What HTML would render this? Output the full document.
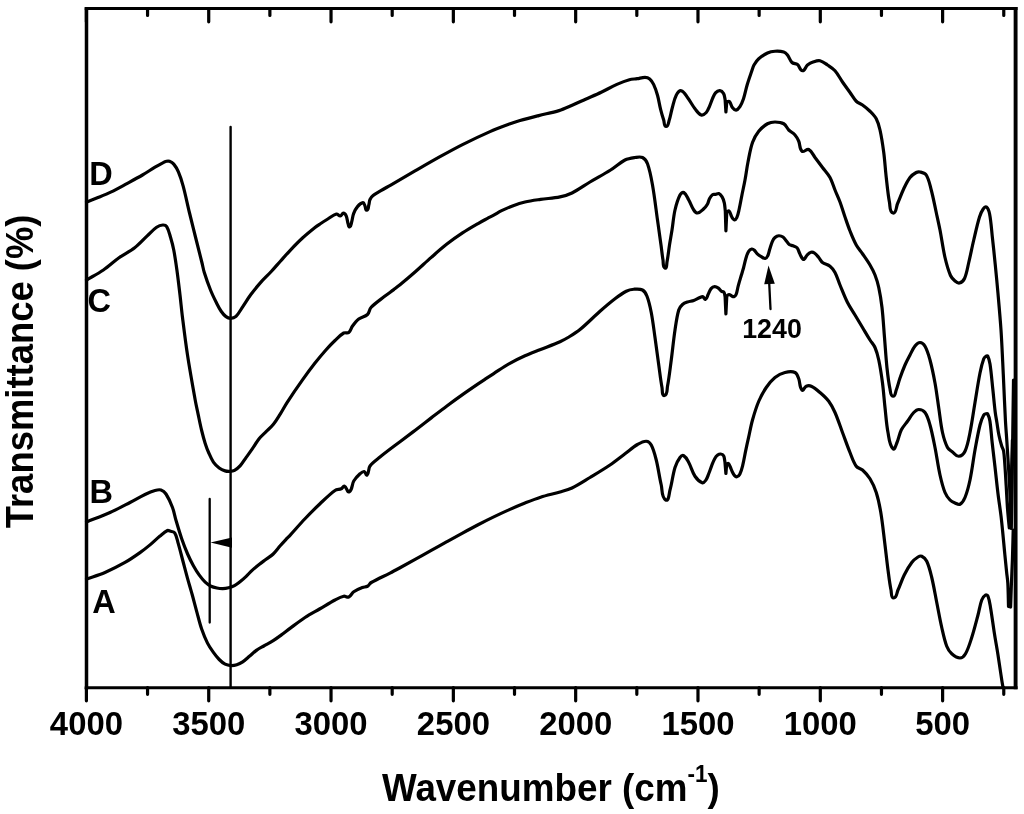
<!DOCTYPE html>
<html><head><meta charset="utf-8"><title>FTIR spectra</title>
<style>
html,body{margin:0;padding:0;background:#fff;}
body{width:1024px;height:814px;overflow:hidden;}
svg{display:block;}
text{font-family:"Liberation Sans",sans-serif;font-weight:bold;fill:#000;}
.cv{fill:none;stroke:#000;stroke-width:3.2;stroke-linejoin:round;stroke-linecap:round;}
.ax{fill:none;stroke:#000;stroke-width:3.2;stroke-linecap:round;}
.tk{fill:none;stroke:#000;stroke-width:3.2;stroke-linecap:round;}
.thin{fill:none;stroke:#000;stroke-width:1.8;}
</style></head><body>
<svg width="1024" height="814" viewBox="0 0 1024 814">
<rect x="0" y="0" width="1024" height="814" fill="#fff"/>
<path d="M86.5,7V689.25" fill="none" stroke="#000" stroke-width="3.5"/>
<path d="M1015.6,7V689.25" fill="none" stroke="#000" stroke-width="3.9"/>
<path d="M84.75,8.55H1017.55" fill="none" stroke="#000" stroke-width="3.1"/>
<path d="M84.75,687.7H1017.55" fill="none" stroke="#000" stroke-width="3.1"/>
<path class="tk" d="M86.40,687.7V700.8M86.40,8.5V21.8M147.56,687.7V694.3M147.56,8.5V15.5M208.72,687.7V700.8M208.72,8.5V21.8M269.88,687.7V694.3M269.88,8.5V15.5M331.03,687.7V700.8M331.03,8.5V21.8M392.19,687.7V694.3M392.19,8.5V15.5M453.35,687.7V700.8M453.35,8.5V21.8M514.51,687.7V694.3M514.51,8.5V15.5M575.67,687.7V700.8M575.67,8.5V21.8M636.82,687.7V694.3M636.82,8.5V15.5M697.98,687.7V700.8M697.98,8.5V21.8M759.14,687.7V694.3M759.14,8.5V15.5M820.30,687.7V700.8M820.30,8.5V21.8M881.46,687.7V694.3M881.46,8.5V15.5M942.62,687.7V700.8M942.62,8.5V21.8M1003.77,687.7V694.3M1003.77,8.5V15.5"/>
<path class="cv" d="M86.50,202.00C90.33,200.53 94.20,199.15 98.00,197.60C102.45,195.78 106.92,194.00 111.25,191.90C116.56,189.33 121.71,186.41 126.90,183.60C132.12,180.78 137.37,177.99 142.50,175.00C146.74,172.52 150.79,169.73 155.00,167.20C157.56,165.66 160.14,164.16 162.80,162.80C163.98,162.19 165.20,161.59 166.50,161.30C167.48,161.08 168.57,160.94 169.50,161.30C171.08,161.91 172.66,162.80 173.75,164.10C175.70,166.42 177.21,169.12 178.40,171.90C180.34,176.42 181.81,181.15 183.10,185.90C185.48,194.69 187.25,203.64 189.40,212.50C191.42,220.84 193.52,229.17 195.60,237.50C197.68,245.84 199.83,254.16 201.90,262.50C202.73,265.83 203.28,269.23 204.30,272.50C206.15,278.41 208.20,284.25 210.50,290.00C212.21,294.26 214.24,298.40 216.30,302.50C217.84,305.57 219.35,308.67 221.30,311.50C222.61,313.40 224.14,315.23 226.00,316.60C227.29,317.55 228.90,318.35 230.50,318.30C232.45,318.24 234.59,317.65 236.00,316.30C238.94,313.48 240.71,309.65 243.00,306.28C245.54,302.55 247.82,298.64 250.50,295.01C253.59,290.82 256.85,286.73 260.30,282.83C263.77,278.89 267.68,275.37 271.25,271.52C274.45,268.07 277.47,264.45 280.60,260.95C283.72,257.46 286.77,253.91 290.00,250.53C294.07,246.27 298.16,242.02 302.50,238.03C306.51,234.34 310.75,230.92 315.00,227.51C316.59,226.23 318.30,225.11 320.00,223.97C322.57,222.27 325.17,220.60 327.80,219.00C330.63,217.28 333.18,214.80 336.40,214.00C337.80,213.65 338.86,216.06 340.30,215.90C341.66,215.74 342.03,213.20 343.40,213.20C344.70,213.20 345.67,214.72 346.20,215.90C347.30,218.36 347.28,221.18 348.10,223.75C348.46,224.87 348.62,227.38 349.70,226.90C351.25,226.22 351.12,223.82 351.60,222.20C352.43,219.38 352.56,216.35 353.60,213.60C354.54,211.10 355.76,208.62 357.50,206.60C358.97,204.90 360.77,202.94 363.00,202.70C364.20,202.57 364.33,204.73 364.90,205.80C365.64,207.20 365.35,210.42 366.90,210.10C368.68,209.74 368.29,206.74 368.80,205.00C369.33,203.20 369.22,201.21 370.00,199.50C370.69,197.99 371.81,196.64 373.10,195.60C375.49,193.67 378.27,192.28 380.90,190.70C384.00,188.84 387.17,187.10 390.30,185.29C398.54,180.53 406.75,175.72 415.00,170.98C423.32,166.19 431.61,161.37 440.00,156.71C447.44,152.58 454.89,148.45 462.50,144.63C471.56,140.08 480.71,135.70 490.00,131.62C496.36,128.83 502.88,126.43 509.40,124.04C512.89,122.75 516.43,121.60 520.00,120.57C526.21,118.79 532.49,117.20 538.75,115.60C545.49,113.88 552.35,112.64 559.00,110.60C563.33,109.27 567.44,107.28 571.60,105.50C576.30,103.48 580.93,101.29 585.60,99.20C590.81,96.86 596.08,94.64 601.25,92.20C606.52,89.71 611.57,86.77 616.90,84.40C620.97,82.59 625.11,80.90 629.40,79.70C631.92,78.99 634.61,79.10 637.20,78.70C639.81,78.30 642.36,77.26 645.00,77.30C646.65,77.33 648.42,77.85 649.70,78.90C651.43,80.33 652.63,82.37 653.60,84.40C655.26,87.88 656.46,91.58 657.50,95.30C658.80,99.93 659.43,104.73 660.60,109.40C661.52,113.07 662.59,116.70 663.75,120.30C664.42,122.37 663.92,126.40 666.10,126.40C668.38,126.40 668.48,122.46 669.20,120.30C670.56,116.23 671.13,111.93 672.30,107.80C673.49,103.59 674.22,99.17 676.25,95.30C677.30,93.30 679.04,90.32 681.25,90.75C684.26,91.34 685.64,95.06 687.50,97.50C690.24,101.08 692.22,105.21 695.00,108.75C696.82,111.07 698.45,114.07 701.25,115.00C703.02,115.59 704.98,113.86 706.25,112.50C707.90,110.74 708.61,108.29 709.60,106.10C710.69,103.69 711.43,101.12 712.50,98.70C713.39,96.68 714.01,94.43 715.50,92.80C716.61,91.59 718.27,90.44 719.90,90.60C721.48,90.76 722.80,92.23 723.60,93.60C724.62,95.35 724.60,97.53 725.10,99.50C725.37,103.67 725.63,107.83 725.90,112.00C726.20,108.57 726.50,105.13 726.80,101.70C727.70,101.70 728.88,101.05 729.50,101.70C731.01,103.29 731.06,105.87 732.40,107.60C733.32,108.79 734.60,110.36 736.10,110.20C737.77,110.02 738.89,108.21 739.80,106.80C741.41,104.30 742.56,101.51 743.50,98.70C745.03,94.12 745.82,89.33 747.20,84.70C748.52,80.25 750.09,75.88 751.60,71.50C752.35,69.32 752.87,67.01 754.00,65.00C755.28,62.72 756.79,60.49 758.75,58.75C761.36,56.43 764.33,54.46 767.50,53.00C769.83,51.92 772.44,51.41 775.00,51.25C777.92,51.07 780.95,51.16 783.75,52.00C785.28,52.46 786.51,53.74 787.50,55.00C789.30,57.29 789.89,60.49 792.00,62.50C793.41,63.84 795.97,63.29 797.50,64.50C799.60,66.15 799.84,70.62 802.50,70.75C805.04,70.88 805.52,66.59 807.50,65.00C809.33,63.53 811.53,62.51 813.75,61.75C815.75,61.07 817.95,60.26 820.00,60.75C822.80,61.41 825.11,63.41 827.50,65.00C830.12,66.75 832.92,68.39 835.00,70.75C837.98,74.13 839.94,78.29 842.50,82.00C844.94,85.54 847.50,89.00 850.00,92.50C852.08,95.42 853.72,98.72 856.25,101.25C857.97,102.97 860.54,103.57 862.50,105.00C865.13,106.91 867.70,108.95 870.00,111.25C872.30,113.55 874.72,115.88 876.25,118.75C878.11,122.24 879.14,126.14 880.00,130.00C881.65,137.42 882.76,144.96 883.75,152.50C884.84,160.80 885.29,169.18 886.25,177.50C887.21,185.85 887.93,194.24 889.50,202.50C890.19,206.12 889.35,212.43 893.00,213.00C896.39,213.53 896.11,206.88 897.50,203.75C899.70,198.80 901.42,193.64 903.75,188.75C905.59,184.88 907.38,180.90 910.00,177.50C911.63,175.39 913.91,173.79 916.25,172.50C917.35,171.89 918.78,171.69 920.00,172.00C922.24,172.56 925.03,173.04 926.25,175.00C929.04,179.47 929.89,184.91 931.25,190.00C933.23,197.42 934.61,204.99 936.25,212.50C937.52,218.33 938.86,224.14 940.00,230.00C941.78,239.15 942.90,248.42 945.00,257.50C946.41,263.61 948.04,269.73 950.50,275.50C951.43,277.68 953.19,279.47 955.00,281.00C956.23,282.04 957.84,283.41 959.40,283.00C961.59,282.42 963.56,280.56 964.50,278.50C966.79,273.48 967.46,267.87 968.75,262.50C970.54,255.03 971.98,247.48 973.75,240.00C975.57,232.31 977.20,224.56 979.50,217.00C980.36,214.19 981.52,211.41 983.20,209.00C983.94,207.95 985.49,206.21 986.50,207.00C988.51,208.57 989.11,211.50 989.60,214.00C991.06,221.45 991.46,229.06 992.30,236.60C993.33,245.79 994.28,255.00 995.20,264.20C996.18,274.00 997.14,283.79 998.00,293.60C999.07,305.73 1000.17,317.85 1001.00,330.00C1001.73,340.66 1002.17,351.33 1002.70,362.00C1003.17,371.33 1003.57,380.67 1004.00,390.00C1004.47,400.00 1004.84,410.00 1005.40,420.00C1005.81,427.34 1006.42,434.67 1006.90,442.00C1007.38,449.33 1007.85,456.67 1008.30,464.00C1008.75,471.33 1009.24,478.66 1009.60,486.00C1009.97,493.50 1010.20,501.00 1010.50,508.50C1010.77,515.17 1011.03,521.83 1011.30,528.50C1011.60,512.33 1011.95,496.17 1012.20,480.00C1012.45,463.33 1012.58,446.67 1012.80,430.00C1013.02,413.33 1013.27,396.67 1013.50,380.00"/>
<path class="cv" d="M86.50,280.00C92.13,276.67 97.99,273.69 103.40,270.00C108.85,266.28 113.62,261.63 119.00,257.80C124.07,254.19 129.79,251.52 134.70,247.70C139.23,244.19 143.01,239.81 147.20,235.90C150.31,233.01 153.12,229.73 156.60,227.30C158.41,226.04 160.60,225.15 162.80,225.00C164.20,224.90 165.96,225.41 166.70,226.60C168.74,229.87 169.49,233.81 170.60,237.50C171.84,241.61 172.93,245.78 173.75,250.00C175.03,256.63 175.97,263.32 176.90,270.00C178.06,278.32 179.02,286.66 180.00,295.00C180.88,302.49 181.56,310.01 182.50,317.50C184.06,330.01 185.58,342.54 187.50,355.00C189.82,370.04 192.51,385.02 195.20,400.00C196.05,404.72 197.11,409.41 198.10,414.10C199.26,419.57 200.33,425.06 201.65,430.50C202.70,434.83 203.85,439.15 205.20,443.40C206.21,446.57 207.36,449.70 208.70,452.75C210.10,455.94 211.42,459.23 213.40,462.10C214.96,464.37 217.00,466.34 219.20,468.00C220.95,469.32 223.01,470.25 225.10,470.90C226.60,471.37 228.23,471.40 229.80,471.30C231.40,471.20 233.09,471.06 234.50,470.30C236.69,469.11 238.63,467.44 240.30,465.60C242.56,463.11 244.23,460.13 246.20,457.40C248.17,454.67 250.19,451.97 252.10,449.20C254.49,445.74 256.48,441.99 259.10,438.70C261.17,436.11 263.76,433.99 266.10,431.65C268.46,429.29 271.11,427.20 273.20,424.60C275.83,421.32 277.96,417.66 280.20,414.10C282.63,410.23 284.70,406.13 287.20,402.30C292.14,394.72 297.27,387.27 302.50,379.90C306.54,374.19 310.69,368.57 315.00,363.06C318.50,358.59 322.13,354.22 325.90,349.97C328.80,346.70 331.83,343.52 335.00,340.51C337.79,337.86 340.43,334.93 343.75,333.00C345.20,332.16 347.44,333.55 348.75,332.50C350.70,330.94 351.01,328.01 352.50,326.00C354.36,323.49 356.27,320.90 358.75,319.00C361.35,317.00 365.11,316.74 367.50,314.50C369.40,312.71 369.20,309.39 371.00,307.50C375.15,303.14 380.27,299.81 385.00,296.09C387.85,293.85 390.85,291.79 393.75,289.61C395.85,288.03 397.98,286.49 400.00,284.81C405.26,280.46 410.46,276.03 415.60,271.52C420.88,266.89 425.96,262.03 431.25,257.40C436.40,252.89 441.51,248.33 446.90,244.11C451.94,240.17 457.16,236.46 462.50,232.94C467.57,229.60 472.85,226.58 478.10,223.53C481.18,221.73 484.36,220.09 487.50,218.41C489.57,217.29 491.69,216.27 493.75,215.13C496.39,213.66 498.89,211.93 501.60,210.60C505.15,208.85 508.79,207.26 512.50,205.90C516.60,204.39 520.75,202.98 525.00,202.00C530.14,200.81 535.38,200.16 540.60,199.40C547.05,198.46 553.61,198.20 560.00,196.90C564.12,196.06 568.23,194.87 572.00,193.00C578.30,189.87 583.96,185.60 590.00,182.00C596.83,177.93 603.87,174.23 610.60,170.00C615.55,166.89 619.80,162.66 625.00,160.00C628.06,158.43 631.60,157.99 635.00,157.50C637.47,157.15 640.26,156.38 642.50,157.50C644.89,158.69 646.59,161.24 647.50,163.75C649.99,170.59 651.23,177.84 652.50,185.00C654.56,196.60 655.85,208.33 657.50,220.00C658.68,228.33 659.85,236.66 661.00,245.00C661.69,250.00 662.14,255.03 663.00,260.00C663.47,262.71 662.54,266.77 665.00,268.00C666.89,268.94 666.60,264.07 667.00,262.00C668.10,256.38 668.62,250.66 669.50,245.00C670.28,239.99 671.21,235.01 672.00,230.00C673.05,223.34 673.50,216.57 675.00,210.00C676.17,204.86 677.64,199.71 680.00,195.00C680.67,193.66 682.45,191.75 683.75,192.50C686.36,193.99 687.26,197.39 688.75,200.00C690.60,203.24 691.67,206.91 693.75,210.00C694.64,211.33 695.91,213.20 697.50,213.00C700.00,212.69 701.86,210.41 703.75,208.75C705.19,207.48 706.46,205.97 707.40,204.30C708.43,202.47 708.62,200.25 709.60,198.40C710.34,197.02 711.20,195.58 712.50,194.70C713.33,194.14 714.51,194.57 715.50,194.40C716.61,194.21 717.74,193.20 718.80,193.60C720.25,194.15 721.30,195.56 722.10,196.90C723.18,198.70 723.84,200.75 724.30,202.80C724.91,205.49 724.97,208.27 725.30,211.00C725.50,217.60 725.70,224.20 725.90,230.80C726.20,224.43 726.50,218.07 726.80,211.70C727.57,211.47 728.54,210.42 729.10,211.00C730.57,212.53 730.62,214.98 731.70,216.80C732.37,217.94 732.99,219.59 734.30,219.80C735.40,219.97 736.33,218.61 736.80,217.60C737.99,215.06 738.48,212.24 739.10,209.50C740.21,204.60 741.01,199.63 742.00,194.70C742.98,189.80 744.10,184.92 745.00,180.00C746.10,174.02 746.81,167.96 748.00,162.00C749.31,155.46 750.30,148.80 752.50,142.50C753.92,138.45 756.07,134.60 758.75,131.25C761.15,128.25 764.16,125.65 767.50,123.75C769.73,122.48 772.43,122.00 775.00,122.00C777.97,122.00 781.18,122.25 783.75,123.75C786.06,125.09 786.86,128.11 788.75,130.00C790.64,131.89 793.23,133.01 795.00,135.00C796.61,136.82 797.79,139.02 798.75,141.25C800.14,144.47 799.30,149.02 802.00,151.25C803.79,152.73 806.66,148.49 808.75,149.50C811.80,150.97 812.95,154.81 815.00,157.50C817.53,160.81 820.00,164.17 822.50,167.50C825.00,170.83 827.98,173.86 830.00,177.50C832.18,181.42 833.30,185.85 835.00,190.00C836.64,194.01 838.49,197.94 840.00,202.00C841.83,206.94 843.28,212.02 845.00,217.00C846.62,221.68 848.15,226.40 850.00,231.00C851.91,235.74 853.79,240.52 856.25,245.00C857.98,248.14 860.47,250.80 862.50,253.75C865.05,257.46 867.71,261.12 870.00,265.00C871.89,268.21 873.65,271.53 875.00,275.00C876.58,279.05 877.83,283.25 878.75,287.50C880.17,294.10 881.23,300.79 882.00,307.50C883.15,317.47 883.67,327.50 884.50,337.50C885.34,347.67 885.92,357.86 887.00,368.00C887.75,375.03 888.53,382.08 890.00,389.00C890.54,391.56 890.42,395.84 893.00,396.25C895.32,396.62 895.41,392.19 896.25,390.00C897.75,386.09 898.62,381.96 900.00,378.00C901.53,373.62 903.15,369.26 905.00,365.00C906.49,361.58 908.26,358.30 910.00,355.00C911.60,351.96 912.86,348.68 915.00,346.00C916.27,344.41 917.97,342.45 920.00,342.50C922.08,342.55 923.97,344.44 925.00,346.25C927.42,350.48 928.72,355.29 930.00,360.00C932.06,367.57 933.59,375.28 935.00,383.00C936.51,391.29 937.49,399.67 938.75,408.00C939.99,416.17 940.71,424.43 942.50,432.50C943.64,437.65 945.10,442.81 947.50,447.50C948.52,449.50 950.73,450.62 952.50,452.00C954.49,453.55 956.24,456.40 958.75,456.25C961.41,456.09 963.86,453.66 965.00,451.25C967.77,445.40 968.70,438.84 970.00,432.50C972.04,422.57 973.32,412.50 975.00,402.50C976.65,392.66 978.04,382.78 980.00,373.00C980.96,368.18 982.06,363.36 983.75,358.75C984.18,357.59 985.23,356.71 986.25,356.00C986.65,355.72 987.49,355.56 987.70,356.00C988.88,358.51 989.58,361.26 990.00,364.00C991.28,372.29 991.90,380.66 992.80,389.00C993.63,396.66 994.27,404.35 995.20,412.00C995.61,415.35 996.26,418.67 996.80,422.00C997.53,426.50 998.09,431.03 999.00,435.50C999.72,439.04 1000.67,442.54 1001.70,446.00C1002.21,447.71 1003.30,449.24 1003.60,451.00C1004.34,455.29 1004.48,459.66 1004.80,464.00C1005.34,471.33 1005.75,478.67 1006.20,486.00C1006.65,493.50 1006.99,501.01 1007.50,508.50C1007.79,512.67 1008.22,516.83 1008.60,521.00C1008.82,523.34 1009.07,525.67 1009.30,528.00C1009.73,518.67 1010.23,509.34 1010.60,500.00C1011.00,490.00 1011.30,480.00 1011.60,470.00C1011.90,460.00 1012.13,450.00 1012.40,440.00"/>
<path class="cv" d="M86.50,522.00C94.33,518.83 102.29,515.96 110.00,512.50C116.80,509.45 123.37,505.91 130.00,502.50C135.04,499.91 139.89,496.95 145.00,494.50C148.24,492.95 151.54,491.47 155.00,490.50C156.93,489.96 159.09,489.39 161.00,490.00C163.03,490.65 164.83,492.22 166.00,494.00C168.74,498.17 170.72,502.83 172.50,507.50C174.04,511.54 174.68,515.86 175.90,520.00C177.75,526.28 179.57,532.56 181.70,538.75C183.47,543.90 185.43,549.00 187.60,554.00C189.33,557.99 191.29,561.89 193.40,565.70C195.19,568.94 197.14,572.10 199.30,575.10C201.08,577.58 202.99,580.00 205.20,582.10C206.92,583.73 208.89,585.13 211.00,586.20C212.84,587.13 214.89,587.59 216.90,588.00C218.82,588.39 220.79,588.64 222.75,588.60C224.72,588.56 226.69,588.24 228.60,587.75C230.63,587.23 232.65,586.59 234.50,585.60C236.59,584.48 238.45,582.97 240.30,581.50C242.35,579.87 244.29,578.10 246.20,576.30C248.23,574.39 250.05,572.28 252.10,570.40C254.35,568.34 256.71,566.40 259.10,564.50C261.38,562.69 263.77,561.04 266.10,559.30C268.47,557.54 271.07,556.04 273.20,554.00C275.80,551.51 277.82,548.49 280.20,545.80C282.48,543.22 284.85,540.72 287.20,538.20C288.12,537.22 289.09,536.29 290.00,535.30C295.03,529.81 299.87,524.15 305.00,518.75C309.87,513.63 314.85,508.60 320.00,503.75C324.86,499.18 329.55,494.35 335.00,490.50C336.77,489.25 339.28,489.63 341.25,488.75C342.50,488.19 343.22,485.77 344.50,486.25C346.77,487.10 347.14,492.95 349.25,491.75C352.63,489.83 351.76,484.34 353.75,481.00C355.39,478.26 357.63,475.89 360.00,473.75C361.19,472.67 362.67,471.22 364.25,471.50C365.71,471.76 365.93,476.03 367.00,475.00C369.29,472.81 368.15,468.56 370.00,466.00C372.62,462.37 376.52,459.85 380.00,457.03C386.53,451.75 393.32,446.80 400.00,441.72C405.19,437.77 410.42,433.89 415.60,429.94C420.84,425.94 426.02,421.87 431.25,417.86C436.46,413.87 441.64,409.84 446.90,405.93C452.06,402.09 457.25,398.31 462.50,394.59C467.66,390.94 472.88,387.40 478.10,383.84C480.68,382.08 483.29,380.37 485.90,378.65C488.51,376.93 491.12,375.22 493.75,373.54C498.95,370.21 504.03,366.65 509.40,363.60C514.46,360.73 519.70,358.19 525.00,355.80C530.11,353.49 535.40,351.60 540.60,349.50C547.06,346.90 553.62,344.50 560.00,341.70C562.76,340.49 565.43,339.07 568.00,337.50C572.10,335.00 576.28,332.55 580.00,329.50C586.98,323.78 593.22,317.21 600.00,311.25C604.89,306.95 609.82,302.69 615.00,298.75C618.58,296.02 622.23,293.29 626.25,291.25C628.56,290.08 631.17,289.45 633.75,289.25C636.67,289.03 639.91,288.63 642.50,290.00C644.77,291.20 646.07,293.86 647.00,296.25C649.03,301.47 650.18,307.00 651.25,312.50C652.85,320.77 653.81,329.16 655.00,337.50C656.31,346.66 657.47,355.84 658.75,365.00C659.80,372.50 660.60,380.05 662.00,387.50C662.52,390.25 661.78,396.12 664.50,395.50C667.66,394.78 666.89,389.43 667.50,386.25C669.15,377.57 670.08,368.76 671.25,360.00C672.58,350.01 673.51,339.97 675.00,330.00C676.01,323.29 676.84,316.51 678.75,310.00C679.38,307.87 680.86,306.00 682.50,304.50C683.88,303.24 685.74,302.62 687.50,302.00C689.52,301.28 691.74,301.24 693.75,300.50C695.93,299.70 697.85,298.28 700.00,297.40C700.95,297.01 702.03,296.36 703.00,296.70C704.14,297.09 704.40,299.78 705.50,299.30C707.17,298.58 707.26,296.11 708.10,294.50C709.12,292.55 709.67,290.28 711.10,288.60C711.98,287.56 713.35,286.77 714.70,286.70C716.03,286.63 717.30,287.46 718.40,288.20C719.57,288.99 720.26,290.36 721.40,291.20C722.16,291.76 723.47,291.52 724.00,292.30C724.84,293.55 724.73,295.23 725.10,296.70C725.37,302.47 725.63,308.23 725.90,314.00C726.20,308.00 726.50,302.00 726.80,296.00C727.57,295.50 728.18,294.50 729.10,294.50C730.10,294.50 730.79,295.58 731.70,296.00C732.40,296.32 733.17,296.95 733.90,296.70C734.88,296.37 735.72,295.46 736.10,294.50C737.23,291.66 737.50,288.55 738.30,285.60C739.23,282.15 740.29,278.73 741.30,275.30C742.02,272.86 742.83,270.45 743.50,268.00C744.40,264.68 745.00,261.29 746.00,258.00C746.67,255.81 747.26,253.53 748.50,251.60C749.26,250.42 750.43,249.30 751.80,249.00C752.75,248.79 753.68,249.65 754.40,250.30C755.65,251.42 756.38,253.04 757.60,254.20C758.54,255.09 759.67,255.77 760.80,256.40C762.25,257.21 763.66,258.71 765.30,258.50C766.61,258.33 767.33,256.70 767.90,255.50C768.87,253.46 769.12,251.15 769.80,249.00C770.62,246.42 771.28,243.77 772.40,241.30C773.03,239.90 773.84,238.51 775.00,237.50C776.04,236.59 777.37,235.84 778.75,235.75C780.22,235.66 781.79,236.15 783.00,237.00C784.53,238.08 785.41,239.86 786.60,241.30C787.48,242.36 788.08,243.71 789.20,244.50C790.30,245.27 791.76,245.29 793.00,245.80C794.37,246.36 796.01,246.60 797.00,247.70C798.31,249.15 798.65,251.24 799.50,253.00C800.31,254.68 800.93,256.48 802.00,258.00C802.47,258.67 803.30,259.82 804.00,259.40C805.62,258.42 805.98,256.14 807.30,254.80C808.35,253.74 809.56,252.67 811.00,252.30C812.12,252.02 813.44,252.36 814.40,253.00C816.13,254.16 817.40,255.91 818.75,257.50C820.10,259.09 820.86,261.22 822.50,262.50C824.71,264.22 827.82,264.50 830.00,266.25C832.08,267.92 833.74,270.15 835.00,272.50C837.11,276.46 838.27,280.86 840.00,285.00C842.44,290.86 844.66,296.82 847.50,302.50C849.67,306.85 852.50,310.83 855.00,315.00C857.50,319.17 860.00,323.33 862.50,327.50C865.00,331.67 867.42,335.88 870.00,340.00C871.59,342.55 873.80,344.75 875.00,347.50C876.74,351.49 877.85,355.74 878.75,360.00C880.36,367.60 881.49,375.30 882.50,383.00C883.57,391.14 884.09,399.34 885.00,407.50C885.93,415.84 886.40,424.26 888.00,432.50C889.08,438.06 889.21,444.54 893.00,448.75C894.65,450.59 896.00,444.76 897.00,442.50C898.77,438.47 899.30,433.95 901.25,430.00C902.84,426.79 905.42,424.17 907.50,421.25C909.58,418.33 911.27,415.09 913.75,412.50C915.09,411.10 916.81,409.50 918.75,409.50C921.06,409.50 923.64,410.63 925.00,412.50C927.64,416.13 928.77,420.69 930.00,425.00C932.11,432.39 933.49,439.97 935.00,447.50C936.83,456.64 937.98,465.90 940.00,475.00C941.32,480.92 942.75,486.87 945.00,492.50C946.12,495.29 947.93,497.82 950.00,500.00C951.34,501.41 953.21,502.24 955.00,503.00C956.58,503.67 958.49,505.08 960.00,504.25C962.45,502.90 963.93,500.09 965.00,497.50C967.31,491.89 968.75,485.94 970.00,480.00C972.09,470.08 973.19,459.97 975.00,450.00C976.52,441.64 977.94,433.24 980.00,425.00C980.86,421.55 982.02,418.11 983.75,415.00C984.20,414.19 985.35,413.98 986.25,413.75C986.73,413.63 987.48,413.56 987.70,414.00C988.80,416.18 989.52,418.58 989.90,421.00C990.99,427.95 991.32,435.00 992.10,442.00C993.02,450.34 994.05,458.66 995.00,467.00C996.02,475.90 996.91,484.81 998.00,493.70C998.91,501.11 1000.09,508.49 1001.00,515.90C1001.62,520.92 1002.10,525.96 1002.60,531.00C1003.30,538.00 1003.92,545.00 1004.60,552.00C1005.25,558.67 1005.91,565.34 1006.60,572.00C1006.98,575.67 1007.60,579.32 1007.80,583.00C1008.23,590.82 1008.27,598.67 1008.50,606.50C1009.20,606.67 1009.90,606.83 1010.60,607.00C1010.87,599.33 1011.11,591.67 1011.40,584.00C1011.71,576.00 1012.13,568.00 1012.40,560.00C1012.73,550.00 1012.93,540.00 1013.20,530.00"/>
<path class="cv" d="M86.50,579.00C92.67,576.83 98.99,575.07 105.00,572.49C111.85,569.55 118.51,566.15 125.00,562.47C130.20,559.52 135.11,556.07 140.00,552.63C143.45,550.20 146.75,547.56 150.00,544.86C153.42,542.01 156.56,538.82 160.00,536.00C162.40,534.03 164.72,531.86 167.50,530.50C168.27,530.12 169.19,530.83 170.00,531.10C171.59,531.63 173.77,531.50 174.70,532.90C176.75,535.97 177.17,539.86 178.20,543.40C179.90,549.23 181.33,555.13 182.90,561.00C184.47,566.87 185.98,572.75 187.60,578.60C189.12,584.08 190.78,589.52 192.30,595.00C193.92,600.85 195.39,606.75 197.00,612.60C198.51,618.08 199.80,623.63 201.65,629.00C203.31,633.81 205.22,638.55 207.50,643.10C209.15,646.38 211.27,649.41 213.40,652.40C215.17,654.89 217.05,657.33 219.20,659.50C220.97,661.29 222.87,663.05 225.10,664.20C226.90,665.13 228.98,665.51 231.00,665.60C232.95,665.69 234.94,665.35 236.80,664.75C238.89,664.07 240.88,663.03 242.70,661.80C245.21,660.10 247.37,657.94 249.70,656.00C252.05,654.04 254.25,651.87 256.75,650.10C258.97,648.53 261.44,647.35 263.80,646.00C266.92,644.22 270.16,642.62 273.20,640.70C276.03,638.91 278.70,636.88 281.40,634.90C284.30,632.78 287.11,630.53 290.00,628.40C294.97,624.73 299.83,620.89 305.00,617.50C309.84,614.33 315.00,611.67 320.00,608.75C325.00,605.83 329.88,602.70 335.00,600.00C337.81,598.52 340.65,596.93 343.75,596.25C345.40,595.89 347.21,597.69 348.75,597.00C350.95,596.01 351.76,593.12 353.75,591.75C356.42,589.91 359.49,588.70 362.50,587.50C364.10,586.86 366.01,587.10 367.50,586.25C369.03,585.37 369.72,583.39 371.25,582.50C377.29,578.96 383.77,576.26 390.00,573.07C393.36,571.35 396.68,569.55 400.00,567.76C405.21,564.93 410.41,562.08 415.60,559.21C420.83,556.31 426.03,553.37 431.25,550.45C436.47,547.52 441.67,544.58 446.90,541.67C452.09,538.78 457.28,535.89 462.50,533.06C467.68,530.25 472.87,527.46 478.10,524.75C483.29,522.06 488.49,519.41 493.75,516.87C498.93,514.37 504.14,511.94 509.40,509.61C514.56,507.32 519.75,505.09 525.00,503.00C530.15,500.95 535.31,498.86 540.60,497.20C546.99,495.19 553.58,493.88 560.00,492.00C564.05,490.81 568.20,489.83 572.00,488.00C578.25,484.98 584.06,481.10 590.00,477.50C596.73,473.43 603.49,469.41 610.00,465.00C615.17,461.49 619.99,457.49 625.00,453.75C629.16,450.65 633.03,447.13 637.50,444.50C640.18,442.92 643.14,441.14 646.25,441.25C648.33,441.33 650.27,443.16 651.25,445.00C653.73,449.65 654.97,454.89 656.25,460.00C658.31,468.24 659.29,476.73 661.25,485.00C662.46,490.08 661.22,497.41 665.75,500.00C668.89,501.80 669.01,493.48 670.00,490.00C672.10,482.61 672.74,474.84 675.00,467.50C676.10,463.94 677.77,460.49 680.00,457.50C680.82,456.39 682.55,455.07 683.75,455.75C686.18,457.14 687.40,460.05 688.75,462.50C691.17,466.91 692.21,472.06 695.00,476.25C696.79,478.93 699.16,481.63 702.20,482.70C703.62,483.20 705.02,481.32 705.90,480.10C707.30,478.15 707.90,475.73 708.80,473.50C709.87,470.83 710.73,468.07 711.80,465.40C712.70,463.14 713.49,460.81 714.70,458.70C715.48,457.34 716.48,456.07 717.70,455.10C718.51,454.46 719.57,453.88 720.60,454.00C721.76,454.14 723.03,454.78 723.60,455.80C724.58,457.56 724.47,459.73 724.90,461.70C725.23,465.63 725.57,469.57 725.90,473.50C726.17,470.30 726.43,467.10 726.70,463.90C727.27,463.77 727.95,463.13 728.40,463.50C729.36,464.30 729.67,465.67 730.20,466.80C731.00,468.50 731.57,470.31 732.40,472.00C733.04,473.29 733.63,474.64 734.60,475.70C735.15,476.30 736.01,477.03 736.80,476.80C738.07,476.43 739.19,475.38 739.80,474.20C741.22,471.46 741.95,468.40 742.70,465.40C743.92,460.52 744.66,455.53 745.70,450.60C746.63,446.19 747.62,441.80 748.60,437.40C749.89,431.60 750.89,425.72 752.50,420.00C754.28,413.66 756.18,407.32 758.75,401.25C760.78,396.44 763.30,391.81 766.25,387.50C768.75,383.84 771.54,380.27 775.00,377.50C777.91,375.17 781.38,373.40 785.00,372.50C788.23,371.69 791.97,371.12 795.00,372.50C797.21,373.51 797.85,376.49 798.75,378.75C800.20,382.37 799.24,387.24 802.00,390.00C803.34,391.34 804.50,386.96 806.25,386.25C807.79,385.62 809.73,385.56 811.25,386.25C814.51,387.73 817.28,390.17 820.00,392.50C823.13,395.18 826.28,397.95 828.75,401.25C831.32,404.68 833.27,408.57 835.00,412.50C837.87,419.02 840.00,425.83 842.50,432.50C845.00,439.17 847.31,445.91 850.00,452.50C851.90,457.16 853.32,462.15 856.25,466.25C857.66,468.23 860.70,468.37 862.50,470.00C865.34,472.58 868.00,475.47 870.00,478.75C872.63,483.05 874.72,487.70 876.25,492.50C878.33,499.01 879.66,505.76 880.80,512.50C882.48,522.44 883.45,532.49 884.70,542.50C885.85,551.66 886.79,560.85 888.00,570.00C888.89,576.68 889.64,583.40 891.00,590.00C891.57,592.76 890.93,598.00 893.75,598.00C896.77,598.00 896.75,592.75 898.00,590.00C900.25,585.07 901.83,579.84 904.25,575.00C906.42,570.65 908.80,566.36 911.75,562.50C913.43,560.29 915.65,558.47 918.00,557.00C919.08,556.32 920.60,555.69 921.75,556.25C923.87,557.28 925.75,559.12 926.75,561.25C929.16,566.38 930.41,571.99 931.75,577.50C933.75,585.76 935.08,594.17 936.75,602.50C938.42,610.83 939.86,619.22 941.75,627.50C943.19,633.81 944.45,640.21 946.75,646.25C947.82,649.06 949.50,651.76 951.75,653.75C954.06,655.80 956.91,658.00 960.00,658.00C962.32,658.00 964.35,655.76 965.50,653.75C968.39,648.71 969.97,643.02 971.75,637.50C974.14,630.09 975.99,622.52 978.00,615.00C979.33,610.02 979.94,604.83 981.75,600.00C982.48,598.05 983.71,596.07 985.50,595.00C986.30,594.52 987.65,595.38 988.00,596.25C989.43,599.82 989.85,603.71 990.50,607.50C991.93,615.80 992.94,624.18 994.25,632.50C995.44,640.01 996.81,647.49 998.00,655.00C999.31,663.32 1000.47,671.67 1001.75,680.00C1002.14,682.51 1002.58,685.00 1003.00,687.50"/>
<path d="M230.6,127V687" fill="none" stroke="#000" stroke-width="2.4" stroke-linecap="round"/>
<path d="M209.7,499V622.5" fill="none" stroke="#000" stroke-width="2.3" stroke-linecap="round"/>
<path d="M210.5,542.6L232,537.6V547.8Z" fill="#000"/>
<path d="M769.2,283L770.5,309" fill="none" stroke="#000" stroke-width="2.3" stroke-linecap="round"/>
<path d="M768.5,265.5L764.2,284.2L774.8,283.8Z" fill="#000"/>
<text transform="translate(742.2,338.2) scale(0.975,1)" font-size="27.5">1240</text>
<text x="89.3" y="185.2" font-size="32.5">D</text>
<text x="87.4" y="311.5" font-size="32.5">C</text>
<text x="89.5" y="503.3" font-size="32.5">B</text>
<text x="92.2" y="612.6" font-size="32.5">A</text>
<text transform="translate(86.4,735) scale(0.975,1)" font-size="33.7" text-anchor="middle">4000</text>
<text transform="translate(208.7,735) scale(0.975,1)" font-size="33.7" text-anchor="middle">3500</text>
<text transform="translate(331.0,735) scale(0.975,1)" font-size="33.7" text-anchor="middle">3000</text>
<text transform="translate(453.4,735) scale(0.975,1)" font-size="33.7" text-anchor="middle">2500</text>
<text transform="translate(575.7,735) scale(0.975,1)" font-size="33.7" text-anchor="middle">2000</text>
<text transform="translate(698.0,735) scale(0.975,1)" font-size="33.7" text-anchor="middle">1500</text>
<text transform="translate(820.3,735) scale(0.975,1)" font-size="33.7" text-anchor="middle">1000</text>
<text transform="translate(942.6,735) scale(0.975,1)" font-size="33.7" text-anchor="middle">500</text>
<text transform="translate(382,800.6) scale(0.969,1)" font-size="38">Wavenumber (cm<tspan font-size="23.2" dy="-18.8">-1</tspan><tspan dy="18.8">)</tspan></text>
<text transform="translate(32.8,528.3) rotate(-90) scale(0.959,1)" font-size="38">Transmittance (%)</text>
</svg>
</body></html>
